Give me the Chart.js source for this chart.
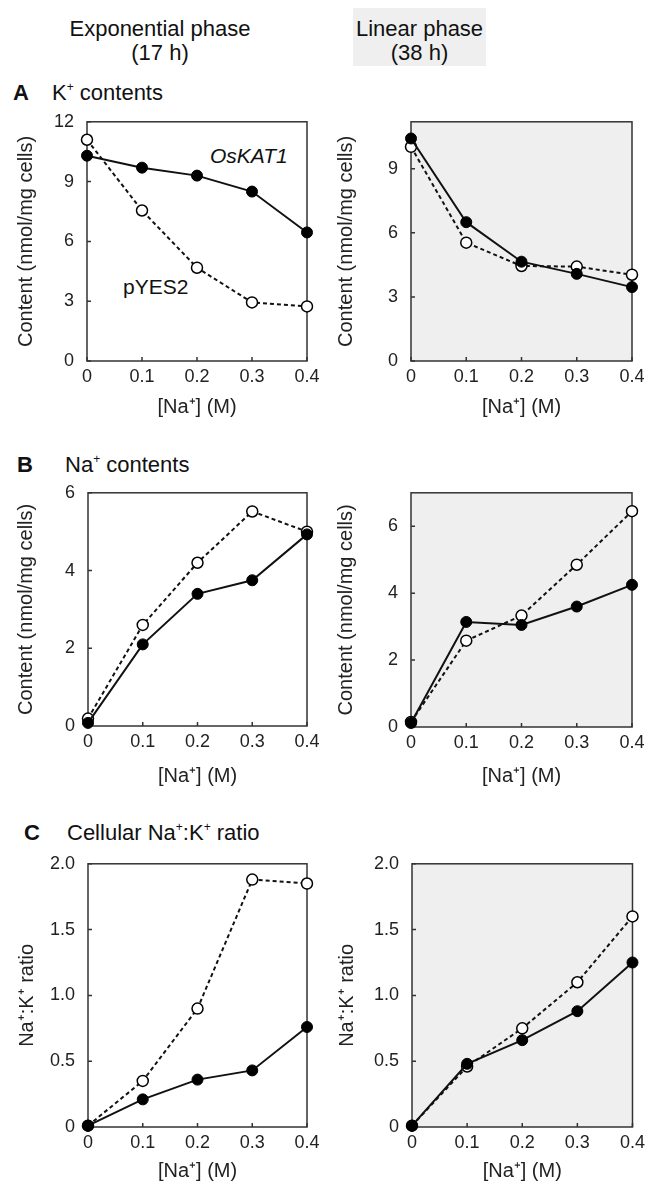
<!DOCTYPE html>
<html>
<head>
<meta charset="utf-8">
<script src="https://cdn.jsdelivr.net/npm/chart.js@4.4.1/dist/chart.umd.min.js"></script>
<style>
  body { margin: 0; background: #fff; }
  #page { position: relative; width: 650px; height: 1191px; overflow: hidden;
          font-family: "Liberation Sans", Arial, Helvetica, sans-serif; color: #111; }
  #page canvas { position: absolute; }
  .txt { position: absolute; white-space: nowrap; font-size: 22px; line-height: 22px; }
  .head { position: absolute; text-align: center; font-size: 22px; line-height: 24px; }
  .lbl { position: absolute; white-space: nowrap; font-size: 21px; line-height: 21px; }
  sup { font-size: 12px; vertical-align: 9px; line-height: 0; }
</style>
</head>
<body>
<div id="page">
  <div class="head" style="left:60px; top:17px; width:200px;">Exponential phase<br>(17 h)</div>
  <div class="head" style="left:353px; top:8px; width:133px; height:58px; background:#efefef;">
    <div style="margin-top:9px;">Linear phase<br>(38 h)</div>
  </div>

  <div class="txt" style="left:13px; top:82px; font-weight:bold;">A</div>
  <div class="txt" style="left:52px; top:82px;">K<sup>+</sup> contents</div>
  <div class="txt" style="left:17px; top:454px; font-weight:bold;">B</div>
  <div class="txt" style="left:65px; top:454px;">Na<sup>+</sup> contents</div>
  <div class="txt" style="left:24px; top:822px; font-weight:bold;">C</div>
  <div class="txt" style="left:67px; top:822px;">Cellular Na<sup>+</sup>:K<sup>+</sup> ratio</div>

  <div class="lbl" style="left:210px; top:145px; font-style:italic;">OsKAT1</div>
  <div class="lbl" style="left:123px; top:276px;">pYES2</div>
</div>

<script>
// [Na+] concentrations (M)
var naConc = [0, 0.1, 0.2, 0.3, 0.4];

// A - K+ contents (nmol/mg cells)
var kExpOsKAT1 = [10.3, 9.7, 9.3, 8.5, 6.45];
var kExpPYES2  = [11.1, 7.55, 4.68, 2.94, 2.74];
var kLinOsKAT1 = [10.42, 6.5, 4.65, 4.08, 3.46];
var kLinPYES2  = [10.03, 5.54, 4.45, 4.42, 4.04];

// B - Na+ contents (nmol/mg cells)
var naExpOsKAT1 = [0.08, 2.1, 3.4, 3.75, 4.93];
var naExpPYES2  = [0.19, 2.6, 4.2, 5.52, 5.0];
var naLinOsKAT1 = [0.12, 3.14, 3.05, 3.6, 4.25];
var naLinPYES2  = [0.15, 2.58, 3.33, 4.85, 6.45];

// C - Na+:K+ ratio
var ratioExpOsKAT1 = [0.01, 0.21, 0.36, 0.43, 0.76];
var ratioExpPYES2  = [0.01, 0.35, 0.9, 1.88, 1.85];
var ratioLinOsKAT1 = [0.01, 0.48, 0.66, 0.88, 1.25];
var ratioLinPYES2  = [0.01, 0.46, 0.75, 1.1, 1.6];

// tick values
var xTicks = [0, 0.1, 0.2, 0.3, 0.4];
var kExpTicks = [0, 3, 6, 9, 12];
var kLinTicks = [0, 3, 6, 9];
var naTicks = [0, 2, 4, 6];
var ratioTicks = [0, 0.5, 1, 1.5, 2];

var FONT = '"Liberation Sans", Arial, Helvetica, sans-serif';
var INK = '#222';

function fmt(v) {
    return v === 0 ? '0' : (Math.abs(v - Math.round(v)) < 1e-9 && v >= 2 && v !== 2 ? String(v) : v.toFixed(1));
}

// boite du graphique : fond, cadre et petites graduations vers l'interieur
var panelBox = {
    id: 'panelBox',
    beforeDatasetsDraw: function(chart, args, opts) {
        var a = chart.chartArea, ctx = chart.ctx;
        ctx.save();
        if (opts.fill) {
            ctx.fillStyle = opts.fill;
            ctx.fillRect(a.left, a.top, a.right - a.left, a.bottom - a.top);
        }
        ctx.strokeStyle = '#333';
        ctx.lineWidth = 1.5;
        ctx.beginPath();
        chart.scales.x.ticks.forEach(function(t) {
            var px = chart.scales.x.getPixelForValue(t.value);
            ctx.moveTo(px, a.bottom);
            ctx.lineTo(px, a.bottom - 4);
        });
        chart.scales.y.ticks.forEach(function(t) {
            var py = chart.scales.y.getPixelForValue(t.value);
            ctx.moveTo(a.left, py);
            ctx.lineTo(a.left + 4, py);
        });
        ctx.stroke();
        ctx.strokeRect(a.left, a.top, a.right - a.left, a.bottom - a.top);
        ctx.restore();
    }
};

function points(vals) {
    return naConc.map(function(x, i) { return { x: x, y: vals[i] }; });
}

function makePanel(p) {
    var page = document.getElementById('page');
    var canvas = document.createElement('canvas');
    var top = p.plotTop - 20;
    var bottom = p.xTitleY + 20;
    var width = 325, height = bottom - top;
    canvas.width = width;
    canvas.height = height;
    canvas.style.left = p.col + 'px';
    canvas.style.top = top + 'px';
    page.appendChild(canvas);

    var yIsInt = p.yTicks[1] >= 1;
    new Chart(canvas.getContext('2d'), {
        type: 'line',
        data: {
            datasets: [{
                label: 'OsKAT1',
                data: points(p.osk),
                borderColor: '#111',
                borderWidth: 2,
                pointRadius: 5.5,
                pointBackgroundColor: '#000',
                pointBorderColor: '#000',
                pointBorderWidth: 1,
                tension: 0,
                clip: false
            }, {
                label: 'pYES2',
                data: points(p.pyes),
                borderColor: '#111',
                borderWidth: 2,
                borderDash: [4, 3],
                pointRadius: 5.5,
                pointBackgroundColor: '#fff',
                pointBorderColor: '#000',
                pointBorderWidth: 1.5,
                tension: 0,
                clip: false
            }]
        },
        options: {
            responsive: false,
            animation: false,
            layout: { padding: { top: 20, right: p.col + width - p.plotRight, bottom: 0, left: 0 } },
            plugins: {
                legend: { display: false },
                tooltip: { enabled: false },
                panelBox: { fill: p.fill }
            },
            scales: {
                x: {
                    type: 'linear',
                    min: 0,
                    max: 0.4,
                    grid: { display: false, drawTicks: false },
                    border: { display: false },
                    afterBuildTicks: function(s) { s.ticks = xTicks.map(function(v) { return { value: v }; }); },
                    afterFit: function(s) { s.height = bottom - p.plotBottom; },
                    ticks: {
                        padding: 5,
                        color: INK,
                        font: { family: FONT, size: 18 },
                        maxRotation: 0,
                        callback: function(v) { return v === 0 ? '0' : v.toFixed(1); }
                    },
                    title: {
                        display: true,
                        text: '[Na\u207A] (M)',
                        color: INK,
                        font: { family: FONT, size: 20 },
                        padding: { top: 0, bottom: 8 }
                    }
                },
                y: {
                    min: 0,
                    max: p.yMax,
                    grid: { display: false, drawTicks: false },
                    border: { display: false },
                    afterBuildTicks: function(s) { s.ticks = p.yTicks.map(function(v) { return { value: v }; }); },
                    afterFit: function(s) { s.width = p.plotLeft - p.col; },
                    ticks: {
                        padding: 13,
                        color: INK,
                        font: { family: FONT, size: 18 },
                        callback: function(v) { return (v === 0 || yIsInt) ? String(v) : v.toFixed(1); }
                    },
                    title: {
                        display: true,
                        text: p.yTitle,
                        color: INK,
                        font: { family: FONT, size: 20 },
                        padding: { top: p.yTitleX - p.col - 12, bottom: 0 }
                    }
                }
            }
        },
        plugins: [panelBox]
    });
}

var contentTitle = 'Content (nmol/mg cells)';
var ratioTitle = 'Na\u207A:K\u207A ratio';

makePanel({ col: 0, plotLeft: 87, plotRight: 307, plotTop: 118, plotBottom: 361, xTitleY: 407, yTitleX: 26,
            yMax: 12, yTicks: kExpTicks, yTitle: contentTitle, osk: kExpOsKAT1, pyes: kExpPYES2 });
makePanel({ col: 325, plotLeft: 411, plotRight: 632, plotTop: 118, plotBottom: 361, xTitleY: 407, yTitleX: 346,
            yMax: 11.2, yTicks: kLinTicks, yTitle: contentTitle, osk: kLinOsKAT1, pyes: kLinPYES2, fill: '#efefef' });

makePanel({ col: 0, plotLeft: 88, plotRight: 307, plotTop: 489, plotBottom: 726, xTitleY: 776, yTitleX: 26,
            yMax: 6, yTicks: naTicks, yTitle: contentTitle, osk: naExpOsKAT1, pyes: naExpPYES2 });
makePanel({ col: 325, plotLeft: 411, plotRight: 632, plotTop: 489, plotBottom: 727, xTitleY: 776, yTitleX: 346,
            yMax: 7, yTicks: naTicks, yTitle: contentTitle, osk: naLinOsKAT1, pyes: naLinPYES2, fill: '#efefef' });

makePanel({ col: 0, plotLeft: 88, plotRight: 307, plotTop: 860, plotBottom: 1127, xTitleY: 1171, yTitleX: 27,
            yMax: 2, yTicks: ratioTicks, yTitle: ratioTitle, osk: ratioExpOsKAT1, pyes: ratioExpPYES2 });
makePanel({ col: 325, plotLeft: 412, plotRight: 634, plotTop: 860, plotBottom: 1127, xTitleY: 1171, yTitleX: 347,
            yMax: 2, yTicks: ratioTicks, yTitle: ratioTitle, osk: ratioLinOsKAT1, pyes: ratioLinPYES2, fill: '#efefef' });
</script>
</body>
</html>
